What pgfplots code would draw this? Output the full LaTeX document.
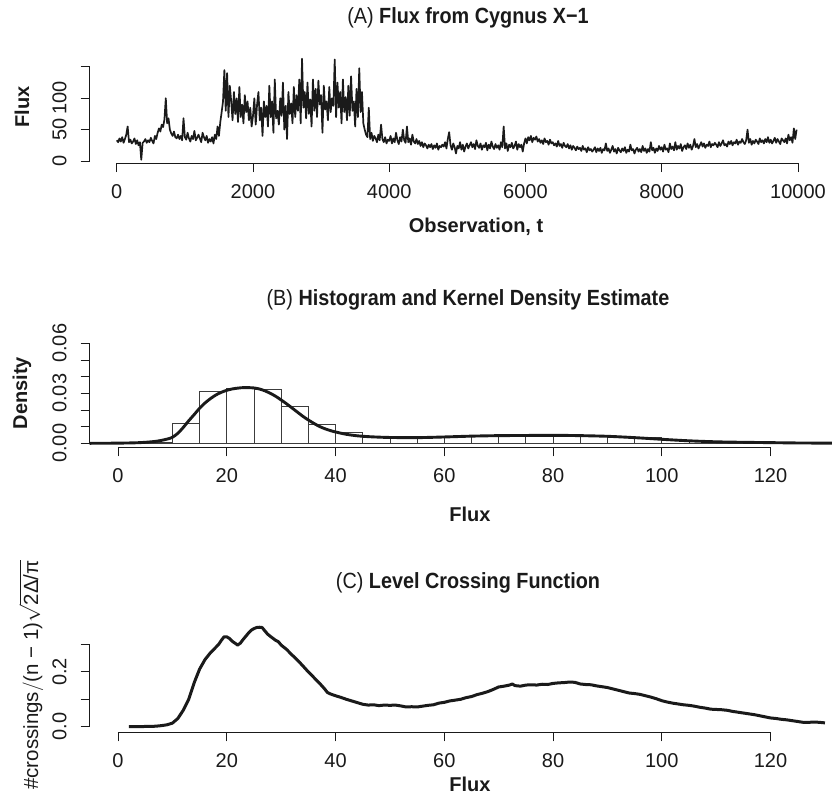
\documentclass[border=0pt]{standalone}
\usepackage{pgfplots}
\pgfplotsset{compat=1.18}
\usepackage{fontspec}
\setmainfont{Liberation Sans}
\newfontfamily\titlefont[FakeStretch=0.9]{Liberation Sans}
\definecolor{ink}{HTML}{1A1A1A}
\tikzset{axisline/.style={line width=0.9pt, color=ink},
  ytl/.style={rotate=90, font=\fontsize{20}{20}\selectfont, text=ink, inner sep=0pt, anchor=center}}
\pgfplotsset{
  rstyle/.style={
    scale only axis, width=742.5pt, height=108pt, anchor=south west, clip=false,
    axis x line*=bottom, axis y line*=left,
    axis line style={draw=none},
    tick align=outside, major tick length=9pt,
    tick style={line width=0.9pt, color=ink},
    scaled ticks=false,
    /pgf/number format/assume math mode=true,
    ticklabel style={font=\fontsize{20}{20}\selectfont, text=ink},
    yticklabels={},
    xticklabel shift=9pt,
  },
}
\begin{document}
\begin{tikzpicture}
\useasboundingbox (0pt,0pt) rectangle (832pt,-797pt);
% ---------------- Panel A ----------------
\begin{axis}[rstyle, at={(89.5pt,-163pt)},
  xmin=-400, xmax=10500, ymin=-3.2, ymax=169,
  xtick={0,2000,4000,6000,8000,10000}, xticklabels={0,2000,4000,6000,8000,10000},
  ytick={0,50,100,150}]
\addplot[line width=1.7pt, color=ink, line join=round] table {
0 33
20 30
40 36
60 31
80 38
100 29
120 35
140 42
160 55
180 30
200 34
220 28
240 31
260 36
280 27
300 33
320 25
340 30
360 2
380 29
400 31
420 35
440 29
460 33
480 30
500 37
520 32
540 28
560 40
580 35
600 45
620 52
640 47
660 58
680 54
700 66
720 100
740 60
760 68
780 50
800 44
820 40
840 47
860 38
880 36
900 42
920 35
940 40
960 33
980 68
1000 38
1020 34
1040 45
1060 36
1080 31
1100 40
1120 35
1140 48
1160 33
1180 37
1200 42
1220 36
1240 30
1260 45
1280 38
1300 33
1320 40
1340 29
1360 35
1380 31
1400 38
1420 28
1440 42
1460 35
1480 55
1500 40
1520 62
1540 78
1560 95
1580 145
1600 80
1620 140
1640 70
1660 120
1680 95
1700 65
1720 110
1740 75
1760 100
1780 62
1800 118
1820 70
1840 90
1860 60
1880 105
1900 78
1920 95
1940 65
1960 85
1980 55
2000 72
2020 100
2040 58
2060 90
2080 110
2100 65
2120 85
2140 40
2160 95
2180 70
2200 88
2220 55
2240 120
2260 70
2280 95
2300 45
2320 130
2340 68
2360 80
2380 58
2400 100
2420 72
2440 125
2460 50
2480 88
2500 35
2520 110
2540 75
2560 92
2580 60
2600 118
2620 70
2640 105
2660 80
2680 130
2700 60
2720 163
2740 85
2760 110
2780 68
2800 125
2820 75
2840 98
2860 55
2880 130
2900 80
2920 115
2940 70
2960 128
2980 90
3000 105
3020 45
3040 120
3060 82
3080 95
3100 65
3120 118
3140 78
3160 100
3180 88
3200 162
3220 70
3240 125
3260 85
3280 110
3300 60
3320 130
3340 78
3360 102
3380 65
3400 120
3420 72
3440 135
3460 80
3480 95
3500 55
3520 115
3540 70
3560 148
3580 78
3600 110
3620 60
3640 50
3660 42
3680 38
3700 85
3720 35
3740 45
3760 32
3780 40
3800 36
3820 30
3840 42
3860 33
3880 58
3900 35
3920 30
3940 38
3960 28
3980 34
4000 32
4020 40
4040 28
4060 36
4080 30
4100 45
4120 33
4140 27
4160 38
4180 31
4200 50
4220 33
4240 29
4260 55
4280 30
4300 36
4320 26
4340 42
4360 31
4380 28
4400 35
4420 27
4440 32
4460 24
4480 30
4500 22
4520 28
4540 25
4560 20
4580 26
4600 22
4620 27
4640 19
4660 25
4680 21
4700 28
4720 18
4740 24
4760 22
4780 26
4800 23
4820 30
4840 20
4860 35
4880 46
4900 25
4920 18
4940 28
4960 22
4980 12
5000 24
5020 20
5040 30
5060 18
5080 26
5100 15
5120 23
5140 28
5160 20
5180 25
5200 30
5220 22
5240 27
5260 19
5280 33
5300 24
5320 21
5340 28
5360 18
5380 25
5400 22
5420 29
5440 17
5460 26
5480 20
5500 31
5520 23
5540 19
5560 27
5580 21
5600 25
5620 18
5640 30
5660 22
5680 55
5700 20
5720 28
5740 16
5760 26
5780 22
5800 29
5820 20
5840 24
5860 31
5880 18
5900 27
5920 22
5940 26
5960 15
5980 28
6000 36
6020 28
6040 38
6060 33
6080 40
6100 30
6120 37
6140 34
6160 39
6180 31
6200 35
6220 29
6240 33
6260 27
6280 36
6300 30
6320 32
6340 26
6360 34
6380 28
6400 30
6420 25
6440 28
6460 23
6480 32
6500 24
6520 27
6540 21
6560 29
6580 24
6600 22
6620 27
6640 20
6660 25
6680 18
6700 24
6720 21
6740 17
6760 23
6780 19
6800 21
6820 16
6840 24
6860 18
6880 20
6900 14
6920 22
6940 17
6960 19
6980 15
7000 18
7020 22
7040 14
7060 20
7080 16
7100 21
7120 13
7140 19
7160 17
7180 28
7200 16
7220 20
7240 13
7260 18
7280 24
7300 15
7320 19
7340 12
7360 21
7380 17
7400 14
7420 20
7440 16
7460 22
7480 13
7500 18
7520 15
7540 26
7560 17
7580 19
7600 12
7620 18
7640 21
7660 15
7680 19
7700 14
7720 24
7740 16
7760 20
7780 13
7800 19
7820 15
7840 30
7860 17
7880 21
7900 13
7920 20
7940 16
7960 24
7980 18
8000 22
8020 15
8040 26
8060 18
8080 20
8100 14
8120 28
8140 19
8160 23
8180 17
8200 30
8220 18
8240 24
8260 20
8280 27
8300 16
8320 22
8340 25
8360 19
8380 28
8400 21
8420 26
8440 18
8460 24
8480 35
8500 22
8520 27
8540 20
8560 25
8580 30
8600 23
8620 28
8640 21
8660 26
8680 24
8700 31
8720 22
8740 27
8760 25
8780 29
8800 26
8820 22
8840 30
8860 24
8880 28
8900 33
8920 25
8940 27
8960 23
8980 31
9000 27
9020 32
9040 25
9060 30
9080 28
9100 34
9120 26
9140 31
9160 29
9180 35
9200 30
9220 27
9240 33
9260 50
9280 29
9300 35
9320 26
9340 32
9360 28
9380 34
9400 31
9420 27
9440 36
9460 30
9480 33
9500 28
9520 35
9540 30
9560 38
9580 29
9600 34
9620 28
9640 32
9660 37
9680 29
9700 35
9720 31
9740 27
9760 36
9780 33
9800 30
9820 36
9840 28
9860 42
9880 33
9900 38
9920 29
9940 52
9960 35
9980 50
};
\draw[axisline] (axis cs:0,-3.2) -- (axis cs:10000,-3.2);
\draw[axisline] (axis cs:-400,0) -- (axis cs:-400,150);
\node[ytl] at ([xshift=-30pt]axis cs:-400,0) {0};
\node[ytl] at ([xshift=-30pt]axis cs:-400,50) {50};
\node[ytl] at ([xshift=-30pt]axis cs:-400,100) {100};
\end{axis}
% ---------------- Panel B ----------------
\begin{axis}[rstyle, at={(89.5pt,-447.3pt)},
  xmin=-5.24, xmax=131.3, ymin=-0.0024, ymax=0.0624,
  xtick={0,20,40,60,80,100,120}, xticklabels={0,20,40,60,80,100,120},
  ytick={0,0.01,0.02,0.03,0.04,0.05,0.06}]
\addplot[ybar interval, draw=ink!85, line width=0.7pt, fill=white] coordinates {
(5,0.0003) (10,0.012) (15,0.031) (20,0.033) (25,0.0326) (30,0.0224) (35,0.0116)
(40,0.0064) (45,0.0040) (50,0.0032) (55,0.0034) (60,0.0040) (65,0.0046)
(70,0.0048) (75,0.0050) (80,0.0048) (85,0.0048) (90,0.0044) (95,0.0034)
(100,0.0018) (105,0.0010) (110,0.0006) (115,0.0004) (120,0.0002) (125,0.0001) (130,0.0001)};
\addplot[line width=2.9pt, color=ink, smooth] coordinates {
(-5.2,0) (0,0.0001) (4,0.0004) (7,0.0012) (9,0.0025) (10,0.0036) (11,0.006)
(12,0.0095) (13,0.0135) (14,0.0172) (15,0.021) (16,0.0242) (17,0.0268)
(18,0.029) (19,0.0306) (20,0.0318) (21,0.0326) (22,0.0331) (23,0.0334)
(24,0.0334) (25,0.0332) (26,0.0326) (27,0.0315) (28,0.0300) (29,0.0282)
(30,0.026) (31,0.0237) (32,0.0212) (33,0.0187) (34,0.0162) (35,0.014)
(36,0.012) (37,0.0102) (38,0.0088) (39,0.0077) (40,0.0068) (42,0.0054)
(44,0.0045) (46,0.0040) (48,0.0037) (50,0.0035) (55,0.0034) (60,0.0038)
(65,0.0043) (70,0.0046) (75,0.0047) (80,0.0048) (85,0.0046) (90,0.0042)
(95,0.0034) (100,0.0024) (105,0.0015) (110,0.0009) (115,0.0006) (120,0.0004)
(125,0.0002) (131.3,0.0001)};
\draw[axisline] (axis cs:0,-0.0024) -- (axis cs:120,-0.0024);
\draw[axisline] (axis cs:-5.24,0) -- (axis cs:-5.24,0.06);
\node[ytl] at ([xshift=-30pt]axis cs:-5.24,0) {0.00};
\node[ytl] at ([xshift=-30pt]axis cs:-5.24,0.03) {0.03};
\node[ytl] at ([xshift=-30pt]axis cs:-5.24,0.06) {0.06};
\end{axis}
% ---------------- Panel C ----------------
\begin{axis}[rstyle, at={(89.5pt,-732.3pt)},
  xmin=-5.24, xmax=131.3, ymin=-0.0204, ymax=0.3737,
  xtick={0,20,40,60,80,100,120}, xticklabels={0,20,40,60,80,100,120},
  ytick={0,0.1,0.2,0.3}]
\addplot[line width=3pt, color=ink, line join=round] coordinates {
(2,0) (3,0) (4,0) (5,0.001) (6,0.001) (7,0.002) (8,0.004) (9,0.007) (10,0.013)
(11,0.03) (12,0.06) (13,0.10) (14,0.16) (15,0.21) (16,0.245) (17,0.27) (18,0.29)
(18.5,0.30) (19,0.315) (19.5,0.328) (20,0.328) (20.5,0.322) (21,0.312) (21.5,0.305)
(22,0.298) (22.5,0.305) (23,0.318) (23.5,0.33) (24,0.342) (24.5,0.352) (25,0.358)
(25.5,0.362) (26,0.363) (26.5,0.362) (27,0.350) (27.5,0.338) (28,0.33) (29,0.315)
(29.5,0.31) (30,0.298) (31,0.282) (32,0.262) (33,0.243) (34,0.222) (35,0.200)
(36,0.18) (37,0.16) (38,0.138) (38.5,0.125) (39,0.12) (40,0.113) (41,0.107)
(42,0.10) (43,0.094) (44,0.088) (45,0.082) (46,0.079) (47,0.08) (48,0.077)
(49,0.079) (50,0.078) (51,0.079) (52,0.076) (53,0.072) (54,0.073) (55,0.072)
(56,0.075) (57,0.078) (58,0.08) (59,0.086) (60,0.089) (61,0.094) (62,0.097)
(63,0.1) (64,0.106) (65,0.11) (66,0.117) (67,0.122) (68,0.128) (69,0.136)
(70,0.145) (71,0.148) (72,0.152) (72.5,0.156) (73,0.15) (74,0.148) (75,0.152)
(76,0.153) (77,0.152) (78,0.155) (79,0.154) (80,0.158) (81,0.16) (82,0.161)
(83,0.163) (84,0.162) (85,0.156) (86,0.154) (87,0.153) (88,0.149) (89,0.146)
(90,0.143) (91,0.138) (92,0.133) (93,0.128) (94,0.123) (95,0.121) (96,0.118)
(97,0.113) (98,0.108) (99,0.102) (100,0.095) (101,0.09) (102,0.086) (103,0.083)
(104,0.08) (105,0.078) (106,0.075) (107,0.071) (108,0.068) (109,0.064) (110,0.063)
(111,0.062) (112,0.06) (113,0.056) (114,0.053) (115,0.05) (116,0.047) (117,0.044)
(118,0.04) (119,0.036) (120,0.032) (121,0.03) (122,0.027) (123,0.025) (124,0.022)
(125,0.019) (126,0.016) (127,0.016) (128,0.017) (129,0.016) (130,0.014)};
\draw[axisline] (axis cs:0,-0.0204) -- (axis cs:120,-0.0204);
\draw[axisline] (axis cs:-5.24,0) -- (axis cs:-5.24,0.3);
\node[ytl] at ([xshift=-30pt]axis cs:-5.24,0) {0.0};
\node[ytl] at ([xshift=-30pt]axis cs:-5.24,0.2) {0.2};
\end{axis}
% ---------------- Titles and labels ----------------
\begin{scope}[every node/.style={text=ink, inner sep=0pt}]
\node[font=\titlefont\fontsize{22}{22}\selectfont] at (468pt,-18pt) {(A) \textbf{Flux from Cygnus X−1}};
\node[font=\titlefont\fontsize{22}{22}\selectfont] at (468pt,-300pt) {(B) \textbf{Histogram and Kernel Density Estimate}};
\node[font=\titlefont\fontsize{22}{22}\selectfont] at (468pt,-583pt) {(C) \textbf{Level Crossing Function}};
\node[font=\bfseries\fontsize{20}{20}\selectfont] at (476pt,-227pt) {Observation, t};
\node[font=\bfseries\fontsize{20}{20}\selectfont] at (470pt,-514pt) {Flux};
\node[font=\bfseries\fontsize{20}{20}\selectfont] at (470pt,-784pt) {Flux};
\node[font=\bfseries\fontsize{20}{20}\selectfont, rotate=90] at (22pt,-107pt) {Flux};
\node[font=\bfseries\fontsize{20}{20}\selectfont, rotate=90] at (22pt,-393pt) {Density};
\node[font=\fontsize{20.5}{20.5}\selectfont, rotate=90] at (31pt,-675pt) {\#crossings$/$(n − 1)$\sqrt{\hbox{2Δ/π}}$};
\end{scope}
\end{tikzpicture}
\end{document}
